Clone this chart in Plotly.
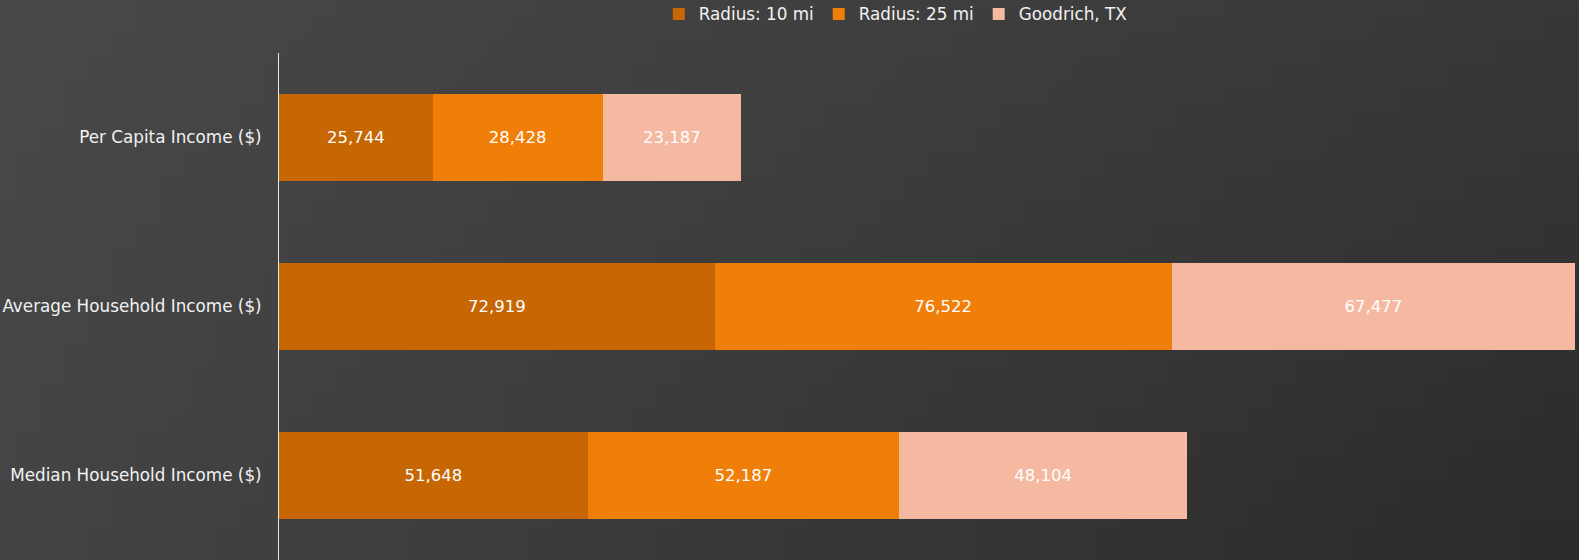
import base64, struct, zlib
import plotly.graph_objects as go

categories = ["Per Capita Income ($)", "Average Household Income ($)", "Median Household Income ($)"]
radius_10 = [25744, 72919, 51648]
radius_25 = [28428, 76522, 52187]
goodrich = [23187, 67477, 48104]
series_names = ["Radius: 10 mi", "Radius: 25 mi", "Goodrich, TX"]
series_colors = ["#C66703", "#F07F09", "#F4B9A0"]

W, H = 1579, 560
L, T = 279, 53
PW, PH = W - L, H - T


def gradient_png(w, h):
    # tl, tr, bl, br colors
    tl, tr, bl, br = (72, 72, 72), (56, 56, 56), (68, 68, 68), (43, 43, 43)
    raw = b""
    for j in range(h):
        v = j / (h - 1)
        raw += b"\x00"
        for i in range(w):
            u = i / (w - 1)
            px = []
            for k in range(3):
                top = tl[k] * (1 - u) + tr[k] * u
                bot = bl[k] * (1 - u) + br[k] * u
                px.append(int(round(top * (1 - v) + bot * v)))
            raw += bytes(px)

    def chunk(t, d):
        c = struct.pack(">I", len(d)) + t + d
        return c + struct.pack(">I", zlib.crc32(t + d) & 0xFFFFFFFF)

    png = b"\x89PNG\r\n\x1a\n" + chunk(b"IHDR", struct.pack(">IIBBBBB", w, h, 8, 2, 0, 0, 0))
    png += chunk(b"IDAT", zlib.compress(raw, 9)) + chunk(b"IEND", b"")
    return "data:image/png;base64," + base64.b64encode(png).decode()


FONT = "DejaVu Sans"
FS = 16.5
fig = go.Figure()
for name, vals, col in zip(series_names, [radius_10, radius_25, goodrich], series_colors):
    fig.add_trace(go.Bar(
        y=categories, x=vals, name=name, orientation="h",
        marker=dict(color=col, line=dict(width=0)),
        texttemplate="%{x:,}", textposition="inside", insidetextanchor="middle",
        textfont=dict(color="white", size=FS, family=FONT),
        constraintext="none", hoverinfo="skip",
    ))

fig.update_layout(
    width=W, height=H,
    barmode="stack", bargap=0.488,
    margin=dict(l=L, r=0, t=T, b=0, pad=0, autoexpand=False),
    paper_bgcolor="#3c3c3c", plot_bgcolor="rgba(0,0,0,0)",
    font=dict(family=FONT, color="#f2f2f2", size=FS),
    uniformtext=dict(minsize=FS, mode="show"),
    showlegend=True,
    legend=dict(orientation="h", xref="container", yref="container", x=0.567, xanchor="center",
                y=1 - 14 / H, yanchor="middle", font=dict(size=16.8, color="#f2f2f2", family=FONT),
                bgcolor="rgba(0,0,0,0)", itemwidth=30, traceorder="normal", tracegroupgap=0),
    xaxis=dict(range=[0, 217600], showgrid=False, zeroline=False, showticklabels=False, showline=False, fixedrange=True),
    yaxis=dict(categoryorder="array", categoryarray=categories, autorange="reversed",
               showgrid=False, zeroline=False, showline=True, linecolor="#e8e8e8", linewidth=1,
               ticks="", ticklabelstandoff=13, tickfont=dict(size=16.8, color="#f2f2f2", family=FONT)),
    images=[dict(source=gradient_png(64, 24), xref="paper", yref="paper",
                 x=-L / PW, y=1 + T / PH, sizex=W / PW, sizey=H / PH,
                 xanchor="left", yanchor="top", sizing="stretch", layer="below")],
)

fig.write_html("out.html", config={"displayModeBar": False},
               post_script="document.body.style.margin='0';document.body.style.background='#3c3c3c';")
